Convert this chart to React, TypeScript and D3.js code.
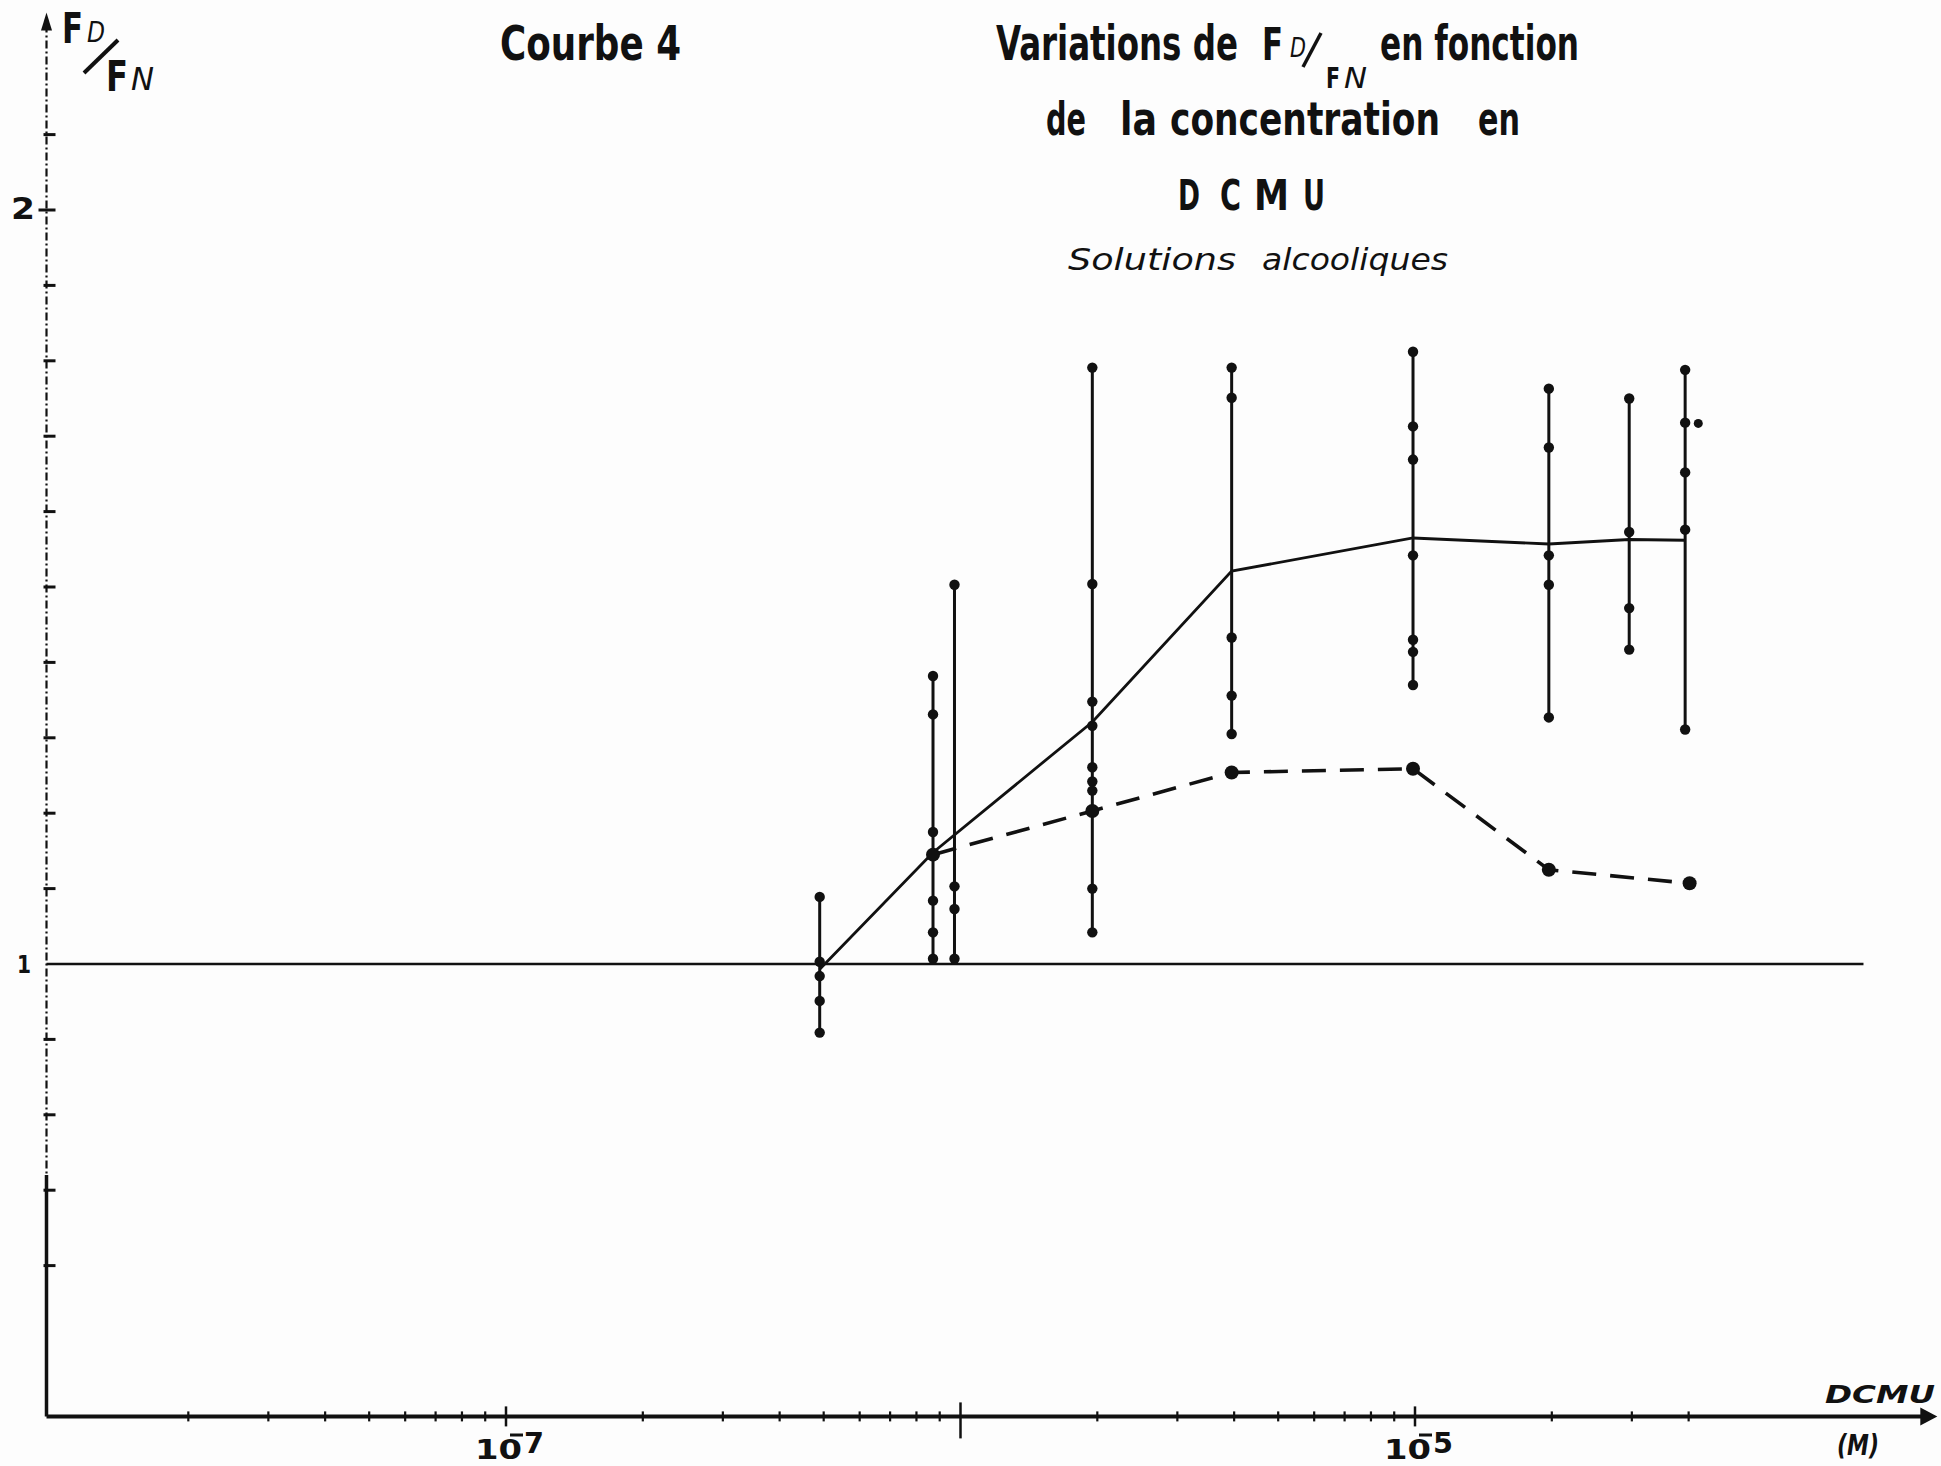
import React from "react";
import * as d3 from "d3";

const concentrations = [4.9e-7, 8.7e-7, 9.7e-7, 1.95e-6, 3.95e-6, 9.9e-6, 1.97e-5, 2.96e-5, 3.93e-5];

// individual FD/FN readings, one list per concentration
const readingsA = [1.089, 1.003, 0.984, 0.951, 0.909];
const readingsB = [1.382, 1.331, 1.175, 1.145, 1.084, 1.042, 1.007];
const readingsC = [1.503, 1.103, 1.073, 1.007];
const readingsD = [1.791, 1.504, 1.348, 1.316, 1.261, 1.242, 1.23, 1.203, 1.1, 1.042];
const readingsE = [1.791, 1.751, 1.433, 1.356, 1.305];
const readingsF = [1.812, 1.713, 1.669, 1.542, 1.43, 1.414, 1.37];
const readingsG = [1.763, 1.685, 1.542, 1.503, 1.327];
const readingsH = [1.75, 1.573, 1.472, 1.417];
const readingsI = [1.788, 1.718, 1.652, 1.576, 1.311];
const readings = [readingsA, readingsB, readingsC, readingsD, readingsE, readingsF, readingsG, readingsH, readingsI];

const strayConc = 4.2e-5;
const strayValue = 1.717;

// mean curve (solid)
const solidConc = [4.9e-7, 8.7e-7, 1.95e-6, 3.95e-6, 9.9e-6, 1.97e-5, 2.96e-5, 3.93e-5];
const solidValues = [0.993, 1.148, 1.321, 1.521, 1.565, 1.557, 1.563, 1.562];

// second curve (dashed)
const dashedConc = [8.7e-7, 1.95e-6, 3.95e-6, 9.9e-6, 1.97e-5, 4.02e-5];
const dashedValues = [1.145, 1.203, 1.254, 1.259, 1.125, 1.107];

const yTicks = [0.6, 0.7, 0.8, 0.9, 1.1, 1.2, 1.3, 1.4, 1.5, 1.6, 1.7, 1.8, 1.9, 2.0, 2.1];
const xMajor = [1e-7, 1e-6, 1e-5];
const xMajorExp = ["7", "", "5"];
const xMinor = [
  2e-8, 3e-8, 4e-8, 5e-8, 6e-8, 7e-8, 8e-8, 9e-8,
  2e-7, 3e-7, 4e-7, 5e-7, 6e-7, 7e-7, 8e-7, 9e-7,
  2e-6, 3e-6, 4e-6, 5e-6, 6e-6, 7e-6, 8e-6, 9e-6,
  2e-5, 3e-5, 4e-5,
];

const xStart = 9.75e-9;
const xEnd = 1.41e-4;
const refEnd = 9.7e-5;
const yBottom = 0.4;
const yTop = 2.262;
const ySolidFrom = 0.72;

const W = 1941;
const H = 1466;
const FONT = "'Liberation Sans Narrow', 'DejaVu Sans Condensed', 'Liberation Sans', Arial, sans-serif";
const INK = "#111";

const x = d3.scaleLog().domain([1e-7, 1e-5]).range([506, 1415]);
const y = d3.scaleLinear().domain([1, 2]).range([964, 210]);

const T = ({ px, py, size, len, italic = false, weight = "bold", children }) => (
  <text
    x={px}
    y={py}
    fontFamily={FONT}
    fontSize={size}
    fontWeight={weight}
    fontStyle={italic ? "italic" : "normal"}
    fill={INK}
    textLength={len}
    lengthAdjust="spacingAndGlyphs"
  >
    {children}
  </text>
);

export default function App() {
  const line = d3.line().x((d) => x(d[0])).y((d) => y(d[1]));
  const solidPath = line(solidConc.map((c, i) => [c, solidValues[i]]));
  const dashedPath = line(dashedConc.map((c, i) => [c, dashedValues[i]]));

  const axisX = x(xStart);
  const axisY = y(yBottom);

  return (
    <svg
      width={W}
      height={H}
      style={{ position: "absolute", left: 0, top: 0, background: "#fdfdfd" }}
    >
      {/* y axis */}
      <line x1={axisX} x2={axisX} y1={y(yTop) + 12} y2={y(ySolidFrom)} stroke={INK} strokeWidth={2.2} strokeDasharray="8 3 2 3" />
      <line x1={axisX} x2={axisX} y1={y(ySolidFrom)} y2={axisY} stroke={INK} strokeWidth={3.5} />
      <path d={`M${axisX},${y(yTop)} L${axisX - 5.5},${y(yTop) + 18} L${axisX + 5.5},${y(yTop) + 18} Z`} fill={INK} />
      {yTicks.map((t) => (
        <line key={t} x1={axisX - (t === 2 ? 8 : 3)} x2={axisX + 9} y1={y(t)} y2={y(t)} stroke={INK} strokeWidth={3} />
      ))}
      <T px={11} py={219} size={30} len={24}>2</T>
      <T px={17} py={973} size={24} len={14}>1</T>

      {/* x axis */}
      <line x1={axisX} x2={x(xEnd) - 14} y1={axisY} y2={axisY} stroke={INK} strokeWidth={4} />
      <path d={`M${x(xEnd)},${axisY} L${x(xEnd) - 17},${axisY - 9} L${x(xEnd) - 17},${axisY + 9} Z`} fill={INK} />
      {xMinor.map((t) => (
        <line key={t} x1={x(t)} x2={x(t)} y1={axisY - 5} y2={axisY + 5} stroke={INK} strokeWidth={2.2} />
      ))}
      {xMajor.map((t, i) => (
        <g key={t}>
          <line
            x1={x(t)}
            x2={x(t)}
            y1={axisY - (i === 1 ? 14 : 10)}
            y2={axisY + (i === 1 ? 22 : 10)}
            stroke={INK}
            strokeWidth={2.5}
          />
          {xMajorExp[i] && (
            <g>
              <T px={x(t) - 31} py={1459} size={26} len={47}>10</T>
              <line x1={x(t) + 4} x2={x(t) + 17} y1={1435} y2={1435} stroke={INK} strokeWidth={3} />
              <T px={x(t) + 18} py={1453} size={28} len={20}>{xMajorExp[i]}</T>
            </g>
          )}
        </g>
      ))}
      <T px={1825} py={1403} size={25} len={110} italic>DCMU</T>
      <T px={1837} py={1455} size={29} len={42} italic>(M)</T>

      {/* reference line FD/FN = 1 */}
      <line x1={axisX} x2={x(refEnd)} y1={y(1)} y2={y(1)} stroke={INK} strokeWidth={2.5} />

      {/* ranges of readings */}
      {readings.map((vals, i) => {
        const cx = x(concentrations[i]);
        return (
          <g key={i}>
            <line x1={cx} x2={cx} y1={y(d3.max(vals))} y2={y(d3.min(vals))} stroke={INK} strokeWidth={3} />
            {vals.map((v, j) => (
              <circle key={j} cx={cx} cy={y(v)} r={5.2} fill={INK} />
            ))}
          </g>
        );
      })}
      <circle cx={x(strayConc)} cy={y(strayValue)} r={4.5} fill={INK} />

      {/* curves */}
      <path d={solidPath} fill="none" stroke={INK} strokeWidth={2.8} />
      <path d={dashedPath} fill="none" stroke={INK} strokeWidth={3.6} strokeDasharray="24 14" />
      {dashedConc.map((c, i) => (
        <circle key={c} cx={x(c)} cy={y(dashedValues[i])} r={7} fill={INK} />
      ))}

      {/* y axis label FD/FN */}
      <T px={62} py={43} size={42} len={21}>F</T>
      <T px={87} py={42} size={28} len={18} italic weight="normal">D</T>
      <line x1={118} y1={40} x2={84} y2={73} stroke={INK} strokeWidth={4} />
      <T px={106} py={91} size={42} len={22}>F</T>
      <T px={131} py={90} size={32} len={23} italic weight="normal">N</T>

      {/* titles */}
      <T px={500} py={60} size={48} len={181}>Courbe 4</T>

      <T px={996} py={60} size={48} len={242}>Variations de</T>
      <T px={1262} py={60} size={44} len={21}>F</T>
      <T px={1290} py={57} size={27} len={16} italic weight="normal">D</T>
      <line x1={1321} y1={33} x2={1303} y2={67} stroke={INK} strokeWidth={3.5} />
      <T px={1326} py={88} size={29} len={14}>F</T>
      <T px={1344} py={88} size={28} len={23} italic weight="normal">N</T>
      <T px={1380} py={60} size={48} len={199}>en fonction</T>

      <T px={1046} py={135} size={46} len={40}>de</T>
      <T px={1120} py={135} size={46} len={37}>la</T>
      <T px={1170} py={135} size={46} len={270}>concentration</T>
      <T px={1478} py={135} size={46} len={42}>en</T>

      <T px={1178} py={210} size={42} len={22}>D</T>
      <T px={1220} py={210} size={42} len={21}>C</T>
      <T px={1254} py={210} size={42} len={35}>M</T>
      <T px={1303} py={210} size={42} len={22}>U</T>

      <T px={1068} py={270} size={30} len={168} italic weight="normal">Solutions</T>
      <T px={1262} py={270} size={30} len={186} italic weight="normal">alcooliques</T>
    </svg>
  );
}
